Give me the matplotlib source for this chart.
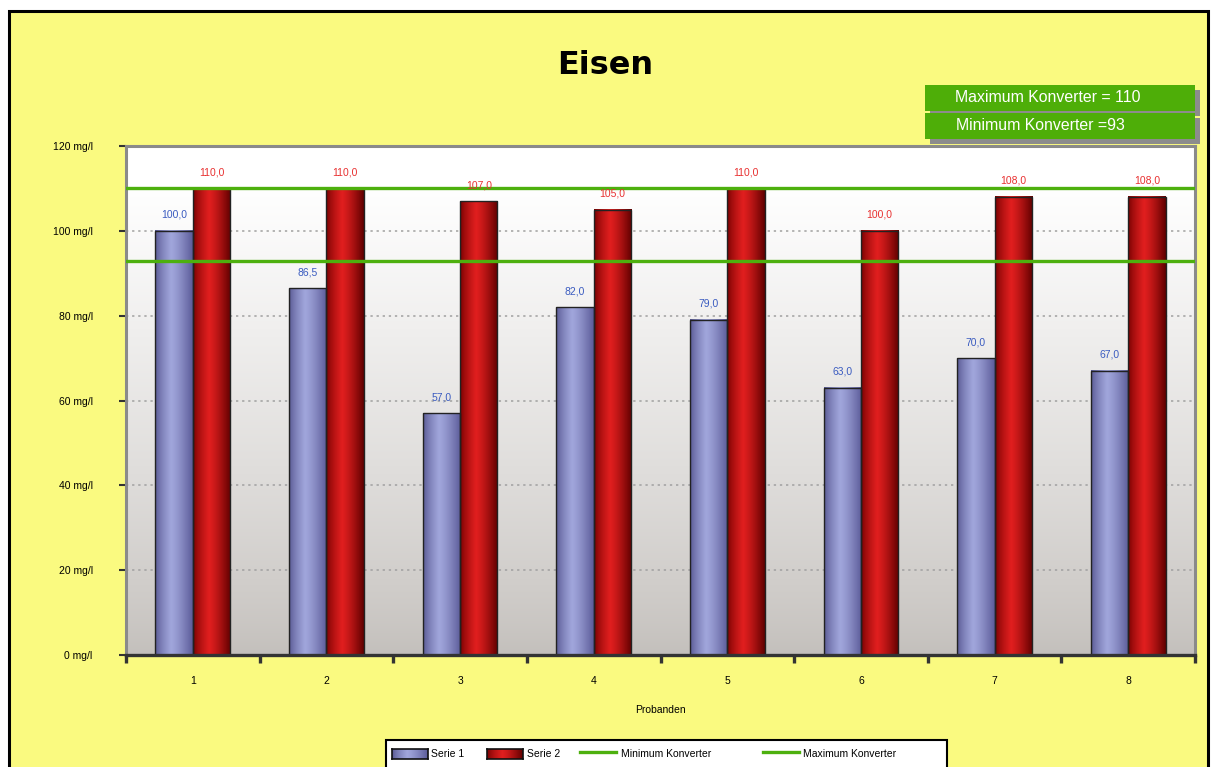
import matplotlib.pyplot as plt
import matplotlib.patches as patches
from matplotlib.lines import Line2D
import numpy as np

plt.rcParams['font.family'] = ['Liberation Sans', 'DejaVu Sans']

# Eisen values per subject
probanden = [1, 2, 3, 4, 5, 6, 7, 8]
serie1 = [100.0, 86.5, 57.0, 82.0, 79.0, 63.0, 70.0, 67.0]
serie2 = [110.0, 110.0, 107.0, 105.0, 110.0, 100.0, 108.0, 108.0]
max_konverter = 110
min_konverter = 93
y_ticks = [0, 20, 40, 60, 80, 100, 120]

W, H = 1211, 767
fig = plt.figure(figsize=(W / 100, H / 100), dpi=100)
fig.patch.set_facecolor('white')

def fx(px):
    return px / W

def fy(py):
    return 1 - py / H

# yellow page with black frame
fig.patches.append(patches.Rectangle((fx(9), fy(790)), fx(1199), (790 - 11) / H,
                                     transform=fig.transFigure, facecolor='#fafa80',
                                     edgecolor='black', linewidth=2.2, zorder=-5))

ax = fig.add_axes([fx(126), fy(655), fx(1195 - 126), (655 - 146) / H])
ax.set_zorder(1)

# plot area background: grey at the bottom fading to white at the top
bg = np.linspace(0, 1, 256)
top = np.array([1.0, 1.0, 1.0])
bot = np.array([0.765, 0.75, 0.735])
shade = np.clip(bg / 0.92, 0, 1) ** 0.8
rgb = bot[None, :] * (1 - shade[:, None]) + top[None, :] * shade[:, None]
ax.imshow(rgb[:, None, :], extent=[0.5, 8.5, 0, 120], origin='lower',
          aspect='auto', zorder=0)

for v in y_ticks[1:-1]:
    ax.axhline(v, color='#a0a0a0', linestyle=(0, (1.5, 2.5)), linewidth=1.1, zorder=1)

def cylinder(dark_l, light, dark_r):
    t = np.linspace(0, 1, 64)
    cols = []
    for s in t:
        if s < 0.42:
            k = (s / 0.42) ** 0.7
            c = np.array(dark_l) * (1 - k) + np.array(light) * k
        else:
            k = ((s - 0.42) / 0.58) ** 1.3
            c = np.array(light) * (1 - k) + np.array(dark_r) * k
        cols.append(c)
    return np.array(cols)[None, :, :]

blue_grad = cylinder([0.33, 0.33, 0.56], [0.63, 0.65, 0.86], [0.36, 0.36, 0.60])
red_grad = cylinder([0.45, 0.0, 0.0], [0.88, 0.12, 0.12], [0.38, 0.0, 0.0])

w = 0.28
x = np.array(probanden)
bars1 = ax.bar(x - w / 2, serie1, width=w, facecolor='none', edgecolor='#222222',
               linewidth=1.0, zorder=4)
bars2 = ax.bar(x + w / 2, serie2, width=w, facecolor='none', edgecolor='#222222',
               linewidth=1.0, zorder=4)

for bars, grad in ((bars1, blue_grad), (bars2, red_grad)):
    for b in bars:
        x0, y0 = b.get_x(), b.get_y()
        ax.imshow(grad, extent=[x0, x0 + b.get_width(), y0, y0 + b.get_height()],
                  aspect='auto', zorder=3, interpolation='bilinear')

ax.set_xlim(0.5, 8.5)
ax.set_ylim(0, 120)

ax.axhline(max_konverter, color='#4db00e', linewidth=2.4, zorder=5)
ax.axhline(min_konverter, color='#4db00e', linewidth=2.4, zorder=5)

def fmt(v):
    return f"{v:.1f}".replace('.', ',')

for b, v in zip(bars1, serie1):
    ax.text(b.get_x() + b.get_width() / 2, v + 2.6, fmt(v), ha='center', va='bottom',
            fontsize=7.5, color='#3a5bc0', zorder=6)
for b, v in zip(bars2, serie2):
    ax.text(b.get_x() + b.get_width() / 2, v + 2.6, fmt(v), ha='center', va='bottom',
            fontsize=7.5, color='#e83030', zorder=6)

# axes styling
for side in ('left', 'top', 'right'):
    ax.spines[side].set_color('#8a8a8a')
    ax.spines[side].set_linewidth(2.2)
ax.spines['bottom'].set_color('#333333')
ax.spines['bottom'].set_linewidth(2.4)
ax.spines['bottom'].set_zorder(7)

ax.set_yticks(y_ticks)
ax.set_yticklabels([f"{v} mg/l" for v in y_ticks], fontsize=7.5)
ax.tick_params(axis='y', length=5, width=1.5, color='#333333', pad=19)

ax.set_xticks(probanden)
ax.set_xticklabels([str(p) for p in probanden], fontsize=7.5)
ax.tick_params(axis='x', which='major', length=0, pad=15)
ax.set_xticks(np.arange(0.5, 9, 1), minor=True)
ax.tick_params(axis='x', which='minor', length=6, width=2.4, color='#333333')
ax.set_xlabel('Probanden', fontsize=7.5, labelpad=13.5)

# title
fig.text(fx(605), fy(66), 'Eisen', ha='center', va='center', fontsize=23,
         fontweight='heavy', family='DejaVu Sans')

# green info boxes with shadow
for top_px, label, tx in ((85, 'Maximum Konverter = 110', 955),
                          (113, 'Minimum Konverter =93', 956)):
    fig.patches.append(patches.Rectangle((fx(930), fy(top_px + 31)), fx(270), 26 / H,
                                         transform=fig.transFigure, facecolor='#8c8c8c',
                                         edgecolor='none', zorder=1))
    fig.patches.append(patches.Rectangle((fx(925), fy(top_px + 26)), fx(270), 26 / H,
                                         transform=fig.transFigure, facecolor='#4eae08',
                                         edgecolor='none', zorder=2))
    fig.text(fx(tx), fy(top_px + 13), label, ha='left', va='center', fontsize=11.4,
             color='white', zorder=3)

# legend
fig.patches.append(patches.Rectangle((fx(386), fy(780)), fx(947 - 386), 40 / H,
                                     transform=fig.transFigure, facecolor='white',
                                     edgecolor='black', linewidth=1.5, zorder=1))
legend_y = 754
for x0, grad in ((392, blue_grad), (487, red_grad)):
    lax = fig.add_axes([fx(x0), fy(legend_y + 5), fx(36), 10 / H])
    lax.set_zorder(3)
    lax.imshow(grad, aspect='auto', extent=[0, 1, 0, 1], interpolation='bilinear')
    lax.set_xticks([])
    lax.set_yticks([])
    for s in lax.spines.values():
        s.set_linewidth(1.2)
        s.set_color('#111111')
for x0 in (580, 763):
    fig.lines.append(Line2D([fx(x0), fx(x0 + 36)], [fy(legend_y - 2), fy(legend_y - 2)],
                            transform=fig.transFigure, color='#4db00e', linewidth=2.4,
                            zorder=3))
for x0, label in ((431, 'Serie 1'), (527, 'Serie 2'), (621, 'Minimum Konverter'),
                  (803, 'Maximum Konverter')):
    fig.text(fx(x0), fy(legend_y), label, ha='left', va='center', fontsize=7.5, zorder=3)

fig.savefig('out.png', dpi=100)
